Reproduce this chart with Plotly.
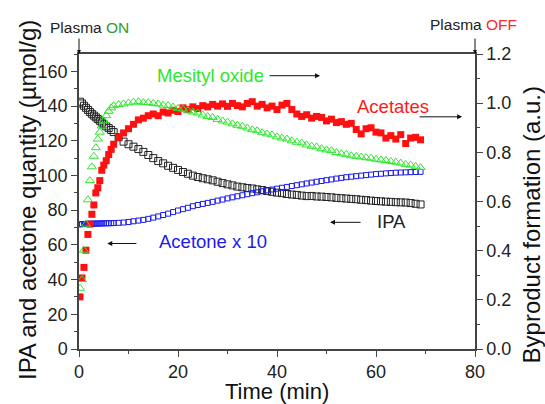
import plotly.graph_objects as go

# ---- data ----
time_min = [0.2, 0.6, 1.0, 1.4, 1.8, 2.2, 2.6, 3.0, 3.4, 3.8, 4.2, 4.6, 5.0, 5.5, 6.0, 6.5, 7.0,
            8, 9, 10, 11, 12, 13, 14, 15, 16, 17, 18, 19, 20, 21, 22, 23, 24, 25, 26, 27, 28, 29,
            30, 31, 32, 33, 34, 35, 36, 37, 38, 39, 40, 41, 42, 43, 44, 45, 46, 47, 48, 49, 50,
            51, 52, 53, 54, 55, 56, 57, 58, 59, 60, 61, 62, 63, 64, 65, 66, 67, 68, 69]

ipa = [142.5, 141.5, 140.2, 139.0, 137.8, 136.6, 135.5, 134.5, 133.5, 132.5, 131.5, 130.5, 129.5,
       128.3, 127.3, 126.2, 125.0,
       122.0, 119.5, 118.0, 116.6, 115.2, 113.6, 111.8, 110.0, 108.3, 107.0, 105.6, 104.4, 103.2,
       102.0, 101.0, 99.9, 99.1, 98.4, 97.8, 97.2, 96.4, 95.6, 94.9, 94.3, 93.6, 93.2, 92.8, 92.5,
       92.0, 91.6, 91.0, 90.6, 90.1, 89.8, 89.3, 89.0, 88.8, 88.4, 88.1, 88.2, 87.9, 87.8, 87.6,
       87.4, 87.1, 86.9, 86.7, 86.5, 86.3, 86.0, 85.8, 85.5, 85.3, 85.1, 84.9, 84.8, 84.6, 84.5,
       84.4, 84.1, 83.7, 83.3]

acetone_x10 = [71.8, 72.0, 72.0, 72.1, 72.1, 72.2, 72.2, 72.2, 72.3, 72.3, 72.3, 72.4, 72.4, 72.4,
               72.5, 72.5, 72.6,
               72.7, 72.9, 73.2, 73.6, 74.0, 74.4, 75.0, 75.7, 76.4, 77.2, 78.0, 78.9, 79.8, 80.6,
               81.4, 82.3, 83.0, 83.6, 84.2, 84.8, 85.5, 86.1, 86.8, 87.4, 88.0, 88.6, 89.2, 89.8,
               90.3, 90.9, 91.4, 91.9, 92.4, 92.9, 93.4, 93.9, 94.4, 94.9, 95.4, 95.9, 96.4, 96.8,
               97.3, 97.7, 98.2, 98.6, 99.0, 99.3, 99.6, 99.9, 100.2, 100.5, 100.8, 101.0, 101.2,
               101.4, 101.6, 101.7, 101.8, 101.9, 102.0, 102.1]

mesityl_oxide = [0.247, 0.282, 0.402, 0.508, 0.607, 0.685, 0.741, 0.784, 0.819, 0.854, 0.882, 0.907,
                 0.928, 0.949, 0.967, 0.981, 0.990,
                 0.994, 0.997, 1.001, 1.004, 1.006, 1.002, 1.002, 0.999, 0.997, 0.992, 0.990, 0.984,
                 0.979, 0.976, 0.969, 0.964, 0.960, 0.952, 0.946, 0.942, 0.934, 0.928, 0.923, 0.916,
                 0.910, 0.906, 0.899, 0.892, 0.888, 0.880, 0.875, 0.871, 0.863, 0.858, 0.854, 0.847,
                 0.841, 0.838, 0.830, 0.825, 0.822, 0.815, 0.810, 0.807, 0.799, 0.794, 0.792, 0.786,
                 0.784, 0.781, 0.778, 0.776, 0.772, 0.769, 0.767, 0.763, 0.760, 0.756, 0.751, 0.748,
                 0.743, 0.738]

acetates = [0.212, 0.289, 0.332, 0.402, 0.466, 0.508, 0.548, 0.586, 0.635, 0.656, 0.685, 0.727, 0.748,
            0.766, 0.791, 0.812, 0.833,
            0.861, 0.879, 0.896, 0.914, 0.932, 0.939, 0.949, 0.956, 0.949, 0.964, 0.960, 0.971, 0.966,
            0.981, 0.974, 0.985, 0.978, 0.990, 0.985, 0.995, 0.988, 0.997, 0.987, 0.999, 0.990, 0.985,
            0.999, 1.006, 0.988, 0.995, 0.981, 0.988, 0.974, 0.992, 0.999, 0.974, 0.956, 0.946, 0.953,
            0.939, 0.946, 0.942, 0.928, 0.935, 0.921, 0.925, 0.914, 0.918, 0.893, 0.875, 0.896, 0.900,
            0.882, 0.879, 0.858, 0.868, 0.854, 0.872, 0.836, 0.858, 0.861, 0.851]

x_ticks = [0, 20, 40, 60, 80]
y_ticks = [0, 20, 40, 60, 80, 100, 120, 140, 160]
y2_ticks = [0.0, 0.2, 0.4, 0.6, 0.8, 1.0, 1.2]

FONT = "Arial, 'Liberation Sans', sans-serif"
AX = "#444444"

fig = go.Figure()
fig.add_trace(go.Scatter(x=time_min, y=acetates, yaxis="y2", mode="markers", name="Acetates",
                         marker=dict(symbol="square", size=7, color="#ff1010", line=dict(width=0))))
fig.add_trace(go.Scatter(x=time_min, y=mesityl_oxide, yaxis="y2", mode="markers", name="Mesityl oxide",
                         marker=dict(symbol="triangle-up-open", size=8, color="#2ee62e",
                                     line=dict(width=1))))
fig.add_trace(go.Scatter(x=time_min, y=ipa, mode="markers", name="IPA",
                         marker=dict(symbol="square-open", size=7, color="#222222",
                                     line=dict(width=1))))
fig.add_trace(go.Scatter(x=time_min, y=acetone_x10, mode="markers", name="Acetone x 10",
                         marker=dict(symbol="square-open", size=5, color="#1a1aee",
                                     line=dict(width=1))))

tick_font = dict(family=FONT, size=18, color="#222222")

fig.update_layout(
    width=545, height=404,
    margin=dict(l=79, r=70, t=54, b=55, autoexpand=False),
    paper_bgcolor="white", plot_bgcolor="white",
    showlegend=False,
    font=dict(family=FONT),
    xaxis=dict(range=[0, 80], tickvals=x_ticks, ticks="outside", ticklen=6, tickwidth=1,
               tickcolor=AX, showline=True, linecolor=AX, linewidth=1.5, mirror=True,
               showgrid=False, zeroline=False, tickfont=tick_font, automargin=False,
               minor=dict(dtick=10, ticks="outside", ticklen=3, tickcolor=AX)),
    yaxis=dict(range=[0, 170], tickvals=y_ticks, ticks="outside", ticklen=6, tickwidth=1,
               tickcolor=AX, showline=True, linecolor=AX, linewidth=1.5, automargin=False,
               showgrid=False, zeroline=False, tickfont=tick_font,
               minor=dict(dtick=10, ticks="outside", ticklen=3, tickcolor=AX)),
    yaxis2=dict(range=[0, 1.2], tickvals=y2_ticks, tickformat=".1f", overlaying="y", side="right",
                anchor="x", ticks="outside", ticklen=6, tickwidth=1, tickcolor=AX, automargin=False,
                showline=True, linecolor=AX, linewidth=1.5, showgrid=False, zeroline=False,
                tickfont=tick_font,
                minor=dict(dtick=0.1, ticks="outside", ticklen=3, tickcolor=AX)),
)

ann = []
# axis titles
ann.append(dict(x=0.5, y=-0.1443, xref="paper", yref="paper", text="Time (min)", showarrow=False,
                xanchor="center", yanchor="middle", font=dict(family=FONT, size=22, color="#111111")))
ann.append(dict(x=-0.1313, y=0.505, xref="paper", yref="paper", textangle=-90,
                text="IPA and acetone quantity (\u00b5mol/g)", showarrow=False,
                xanchor="center", yanchor="middle", font=dict(family=FONT, size=24, color="#111111")))
ann.append(dict(x=1.143, y=0.421, xref="paper", yref="paper", textangle=-90,
                text="Byproduct formation (a.u.)", showarrow=False,
                xanchor="center", yanchor="middle", font=dict(family=FONT, size=24, color="#111111")))

lab = dict(family=FONT, size=18.5)
ann.append(dict(x=26.5, y=157.5, xref="x", yref="y", text="Mesityl oxide", showarrow=False,
                font=dict(lab, color="#2ee62e")))
ann.append(dict(x=63.5, y=139.5, xref="x", yref="y", text="Acetates", showarrow=False,
                font=dict(lab, color="#ff1a1a")))
ann.append(dict(x=63.2, y=73.5, xref="x", yref="y", text="IPA", showarrow=False,
                font=dict(lab, color="#222222")))
ann.append(dict(x=27.1, y=62.0, xref="x", yref="y", text="Acetone x 10", showarrow=False,
                font=dict(lab, color="#1a1aee")))
arrow = dict(showarrow=True, arrowhead=2, arrowsize=1, arrowwidth=1, arrowcolor="#111111",
             text="", xref="x", yref="y", axref="x", ayref="y", standoff=0, startstandoff=0)
ann.append(dict(arrow, x=48.7, y=157.5, ax=38.2, ay=157.5))
ann.append(dict(arrow, x=77.4, y=133.8, ax=68.5, ay=133.8))
ann.append(dict(arrow, x=50.7, y=73.0, ax=57.2, ay=73.0))
ann.append(dict(arrow, x=5.7, y=60.8, ax=11.9, ay=60.8))
# plasma markers
ann.append(dict(x=0, y=170, xref="x", yref="y", ax=0, ay=-17, text="", showarrow=True,
                arrowhead=2, arrowsize=0.8, arrowwidth=1, arrowcolor="#111111", standoff=0))
ann.append(dict(x=80, y=170, xref="x", yref="y", ax=0, ay=-17, text="", showarrow=True,
                arrowhead=2, arrowsize=0.8, arrowwidth=1, arrowcolor="#111111", standoff=0))
ann.append(dict(x=2.2, y=1.09, xref="x", yref="paper", showarrow=False,
                xanchor="center", yanchor="middle",
                text="Plasma <span style='color:#2e9e2e'>ON</span>",
                font=dict(family=FONT, size=15.5, color="#222222")))
ann.append(dict(x=79.6, y=1.1, xref="x", yref="paper", showarrow=False,
                xanchor="center", yanchor="middle",
                text="Plasma <span style='color:#ff2a2a'>OFF</span>",
                font=dict(family=FONT, size=15.5, color="#222222")))
fig.update_layout(annotations=ann)

fig.write_html("out.html", config={"displayModeBar": False},
               post_script="document.body.style.margin='0';")
